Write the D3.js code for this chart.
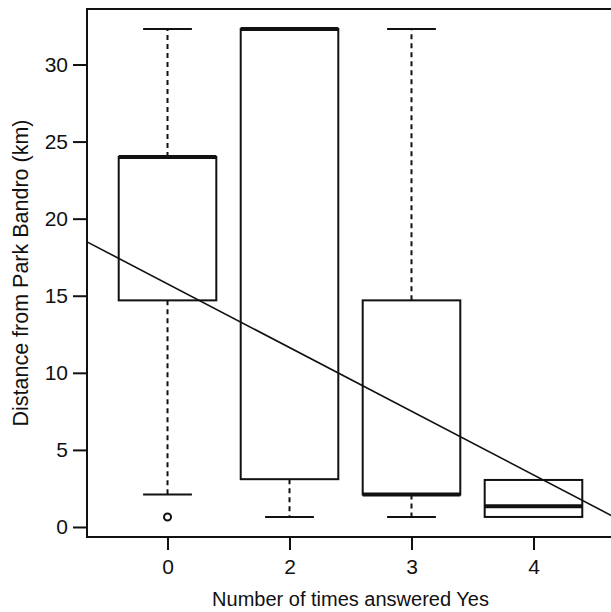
<!DOCTYPE html>
<html>
<head>
<meta charset="utf-8">
<script src="https://cdn.jsdelivr.net/npm/d3@7"></script>
<style>
  body { margin: 0; background: #fff; }
  text { font-family: "Liberation Sans", Arial, sans-serif; fill: #111; }
</style>
</head>
<body>
<svg id="chart" width="611" height="612"></svg>
<script>
// groups (x labels) and their box stats
const groups = ["0", "2", "3", "4"]
const whiskLo = [2.1, 0.65, 0.65, 0.65]
const q1 = [14.7, 3.1, 2.1, 0.65]
const median = [24.0, 32.3, 2.1, 1.35]
const q3 = [24.0, 32.3, 14.7, 3.05]
const whiskHi = [32.3, 32.3, 32.3, 3.05]
const outliers = [[0, 0.65]]   // [group index, value]
const yTicks = [0, 5, 10, 15, 20, 25, 30]
// fitted line, value at position p (1..4) = intercept + slope * p
const lineIntercept = 19.9
const lineSlope = -4.13

const margin = {left: 87, top: 9, right: -3, bottom: 75}
const width = 611 - margin.left - margin.right
const height = 612 - margin.top - margin.bottom

const svg = d3.select('#chart')
const g = svg.append('g').attr('transform', `translate(${margin.left},${margin.top})`)

const x = d3.scaleLinear().domain([0.34, 4.66]).range([0, width])
const y = d3.scaleLinear().domain([-0.65, 33.6]).range([height, 0])
const boxW = x(1.4) - x(0.6)
const capW = boxW / 2

const data = groups.map((name, i) => ({
    name, pos: i + 1,
    lo: whiskLo[i], q1: q1[i], med: median[i], q3: q3[i], hi: whiskHi[i]
}))

const boxes = g.selectAll('.box')
    .data(data)
    .enter()
    .append('g')
    .attr('class', 'box')

// whiskers (dashed)
boxes.append('line')
    .attr('x1', d => x(d.pos)).attr('x2', d => x(d.pos))
    .attr('y1', d => y(d.q3)).attr('y2', d => y(d.hi))
    .attr('stroke', '#111').attr('stroke-width', 2).attr('stroke-dasharray', '5,4')
boxes.append('line')
    .attr('x1', d => x(d.pos)).attr('x2', d => x(d.pos))
    .attr('y1', d => y(d.q1)).attr('y2', d => y(d.lo))
    .attr('stroke', '#111').attr('stroke-width', 2).attr('stroke-dasharray', '5,4')
// staples
boxes.filter(d => d.hi > d.q3).append('line')
    .attr('x1', d => x(d.pos) - capW / 2).attr('x2', d => x(d.pos) + capW / 2)
    .attr('y1', d => y(d.hi)).attr('y2', d => y(d.hi))
    .attr('stroke', '#111').attr('stroke-width', 2)
boxes.filter(d => d.lo < d.q1).append('line')
    .attr('x1', d => x(d.pos) - capW / 2).attr('x2', d => x(d.pos) + capW / 2)
    .attr('y1', d => y(d.lo)).attr('y2', d => y(d.lo))
    .attr('stroke', '#111').attr('stroke-width', 2)
// box
boxes.append('rect')
    .attr('x', d => x(d.pos) - boxW / 2)
    .attr('width', boxW)
    .attr('y', d => y(d.q3))
    .attr('height', d => y(d.q1) - y(d.q3))
    .attr('fill', '#fff')
    .attr('stroke', '#111').attr('stroke-width', 2)
// median
boxes.append('line')
    .attr('x1', d => x(d.pos) - boxW / 2).attr('x2', d => x(d.pos) + boxW / 2)
    .attr('y1', d => y(d.med)).attr('y2', d => y(d.med))
    .attr('stroke', '#111').attr('stroke-width', 4)

g.selectAll('.outlier')
    .data(outliers)
    .enter()
    .append('circle')
    .attr('class', 'outlier')
    .attr('cx', d => x(d[0] + 1))
    .attr('cy', d => y(d[1]))
    .attr('r', 3.5)
    .attr('fill', 'none')
    .attr('stroke', '#111').attr('stroke-width', 2)

// fitted line across the plot region
const [x0, x1] = x.domain()
g.append('line')
    .attr('x1', x(x0)).attr('y1', y(lineIntercept + lineSlope * x0))
    .attr('x2', x(x1)).attr('y2', y(lineIntercept + lineSlope * x1))
    .attr('stroke', '#111').attr('stroke-width', 1.6)

// frame
g.append('rect')
    .attr('width', width).attr('height', height)
    .attr('fill', 'none').attr('stroke', '#111').attr('stroke-width', 2)

// axes
const yAxis = g.append('g')
    .call(d3.axisLeft(y).tickValues(yTicks).tickSize(14).tickPadding(5))
const xAxis = g.append('g')
    .attr('transform', `translate(0,${height})`)
    .call(d3.axisBottom(x).tickValues([1, 2, 3, 4]).tickFormat((d, i) => groups[i]).tickSize(13).tickPadding(9))
for (const ax of [xAxis, yAxis]) {
    ax.select('.domain').remove()
    ax.selectAll('line').attr('stroke', '#111').attr('stroke-width', 2)
    ax.selectAll('text').attr('fill', '#111').style('font-size', '21px')
}

svg.append('text')
    .attr('x', margin.left + (x(4.5) + x(0.5)) / 2)
    .attr('y', 606)
    .attr('text-anchor', 'middle')
    .style('font-size', '20px')
    .text('Number of times answered Yes')
svg.append('text')
    .attr('transform', `translate(28,${margin.top + height / 2}) rotate(-90)`)
    .attr('text-anchor', 'middle')
    .style('font-size', '21.5px')
    .text('Distance from Park Bandro (km)')
</script>
</body>
</html>
